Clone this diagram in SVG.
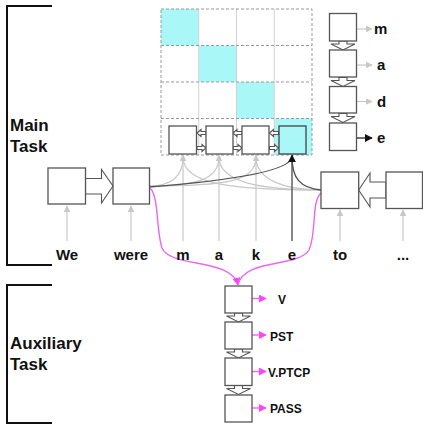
<svg xmlns="http://www.w3.org/2000/svg" width="423" height="425" viewBox="0 0 423 425">
<style>
  text { font-family: "Liberation Sans", Arial, Helvetica, sans-serif; font-weight: bold; fill: #111; }
  .tok { font-size: 15px; text-anchor: middle; }
  .big { font-size: 17px; }
  .out { font-size: 15px; }
  .aux { font-size: 12px; }
  .box { fill: #fff; stroke: #555; stroke-width: 1.3; }
  .cbox { fill: #aaf7f7; stroke: #444; stroke-width: 1.3; }
  .hollow { fill: #fff; stroke: #555; stroke-width: 1.1; stroke-linejoin: miter; }
  .cell { fill: #aaf7f7; stroke: none; }
  .dash { fill: none; stroke: #999; stroke-width: 1; stroke-dasharray: 3 2; }
  .vin { fill: none; stroke: #d2d2d2; stroke-width: 1; }
  .lg { fill: none; stroke: #c8c8c8; stroke-width: 1.2; }
  .dk { fill: none; stroke: #555; stroke-width: 1.4; }
  .pk { fill: none; stroke: #ee66ee; stroke-width: 1.4; }
  .brk { fill: none; stroke: #111; stroke-width: 2; }
</style>
<defs>
  <marker id="mg" viewBox="0 0 10 10" refX="9" refY="5" markerWidth="7" markerHeight="7" markerUnits="userSpaceOnUse" orient="auto">
    <path d="M0,0 L10,5 L0,10 Z" fill="#c8c8c8"/>
  </marker>
  <marker id="mb" viewBox="0 0 10 10" refX="9" refY="5" markerWidth="8" markerHeight="8" markerUnits="userSpaceOnUse" orient="auto">
    <path d="M0,0 L10,5 L0,10 Z" fill="#111"/>
  </marker>
  <marker id="mp" viewBox="0 0 10 10" refX="9" refY="5" markerWidth="8" markerHeight="8" markerUnits="userSpaceOnUse" orient="auto">
    <path d="M0,0 L10,5 L0,10 Z" fill="#ff44ff"/>
  </marker>
  <polygon id="sL" points="0,0 4,-3.5 4,-1.5 9,-1.5 9,1.5 4,1.5 4,3.5"/>
  <polygon id="sR" points="9,0 5,-3.5 5,-1.5 0,-1.5 0,1.5 5,1.5 5,3.5"/>
  <polygon id="dA" points="-4,0 4,0 4,3 12,3 0,9 -12,3 -4,3"/>
</defs>

<!-- brackets and task labels -->
<g id="main-task">
  <path class="brk" d="M52,6 L7,6 L7,265 L52,265"/>
  <text class="big" x="10" y="131">Main</text>
  <text class="big" x="10" y="152">Task</text>
</g>
<g id="aux-task">
  <path class="brk" d="M52,285 L7,285 L7,423 L52,423"/>
  <text class="big" x="10" y="349">Auxiliary</text>
  <text class="big" x="10" y="370">Task</text>
</g>

<!-- attention grid -->
<g id="grid">
  <rect class="cell" x="161" y="9" width="37.75" height="36.5"/>
  <rect class="cell" x="198.75" y="45.5" width="37.75" height="36.5"/>
  <rect class="cell" x="236.5" y="82" width="37.75" height="36.5"/>
  <rect class="cell" x="274.25" y="118.5" width="37.75" height="36.5"/>
  <path class="vin" d="M198.75,9 V155 M236.5,9 V155 M274.25,9 V155"/>
  <path class="dash" d="M161,9 H312 V155 H161 Z M161,45.5 H312 M161,82 H312 M161,118.5 H312"/>
</g>

<!-- connectors -->
<g id="connectors">
  <!-- token inputs -->
  <path class="lg" d="M67,241 V206" marker-end="url(#mg)"/>
  <path class="lg" d="M131,241 V206" marker-end="url(#mg)"/>
  <path class="lg" d="M340,241 V210" marker-end="url(#mg)"/>
  <path class="lg" d="M403,241 V210" marker-end="url(#mg)"/>
  <path class="lg" d="M183,241 V155" marker-end="url(#mg)"/>
  <path class="lg" d="M219,241 V155" marker-end="url(#mg)"/>
  <path class="lg" d="M256,241 V155" marker-end="url(#mg)"/>
  <!-- context curves -->
  <path class="lg" d="M149,186 C170,186 183,178 183,157"/>
  <path class="lg" d="M149,186 C195,186 219,180 219,157"/>
  <path class="lg" d="M149,186 C225,186 256,182 256,157"/>
  <path class="lg" d="M321,190 C230,190 183,184 183,157"/>
  <path class="lg" d="M321,190 C260,190 219,182 219,157"/>
  <path class="lg" d="M321,190 C285,190 256,180 256,157"/>
  <path class="dk" d="M149,187 C225,181 290,172 292,157"/>
  <path class="dk" d="M321,190 C300,188 292,178 292,157"/>
  <path class="dk" d="M292,241 V155" marker-end="url(#mb)"/>
  <!-- to auxiliary decoder -->
  <path class="pk" d="M150,188 C159,196 156,230 162,248 C170,268 232,258 238,285" marker-end="url(#mp)"/>
  <path class="pk" d="M321,193 C311,202 317,232 309,250 C298,268 244,258 238,285"/>
  <!-- right column outputs -->
  <path class="lg" d="M357,29 H372" marker-end="url(#mg)"/>
  <path class="lg" d="M357,65 H372" marker-end="url(#mg)"/>
  <path class="lg" d="M357,101.5 H372" marker-end="url(#mg)"/>
  <path stroke="#111" stroke-width="1.2" d="M357,138 H372" marker-end="url(#mb)"/>
  <!-- aux outputs -->
  <path class="pk" d="M252,298.5 H266" marker-end="url(#mp)"/>
  <path class="pk" d="M252,335 H266" marker-end="url(#mp)"/>
  <path class="pk" d="M252,371.5 H266" marker-end="url(#mp)"/>
  <path class="pk" d="M252,408 H266" marker-end="url(#mp)"/>
  <!-- hollow arrows -->
  <polygon class="hollow" points="85.5,178.5 101.5,178.5 101.5,169.5 113,186 101.5,203 101.5,194 85.5,194"/>
  <polygon class="hollow" points="386,182 370,182 370,173 358.7,190 370,207 370,198 386,198"/>
  <use href="#sL" class="hollow" x="197" y="133"/>
  <use href="#sR" class="hollow" x="197" y="148"/>
  <use href="#sL" class="hollow" x="233" y="133"/>
  <use href="#sR" class="hollow" x="233" y="148"/>
  <use href="#sL" class="hollow" x="269.5" y="133"/>
  <use href="#sR" class="hollow" x="269.5" y="148"/>
  <use href="#dA" class="hollow" x="343" y="41"/>
  <use href="#dA" class="hollow" x="343" y="77.5"/>
  <use href="#dA" class="hollow" x="343" y="113.5"/>
  <use href="#dA" class="hollow" x="238.5" y="313"/>
  <use href="#dA" class="hollow" x="238.5" y="349"/>
  <use href="#dA" class="hollow" x="238.5" y="385.5"/>
</g>

<!-- encoder nodes -->
<g id="enc-we"><rect class="box" x="48" y="168" width="37.5" height="36"/></g>
<g id="enc-were"><rect class="box" x="113" y="168" width="36.5" height="36"/></g>
<g id="enc-to"><rect class="box" x="321" y="172" width="37.7" height="36.5"/></g>
<g id="enc-dots"><rect class="box" x="386" y="172" width="36.5" height="36.5"/></g>

<!-- character nodes in grid -->
<g id="char-m"><rect class="box" x="169" y="126" width="27.5" height="28"/></g>
<g id="char-a"><rect class="box" x="206" y="126" width="27" height="28"/></g>
<g id="char-k"><rect class="box" x="242" y="126" width="27" height="28"/></g>
<g id="char-e"><rect class="cbox" x="279" y="126" width="27" height="28"/></g>

<!-- decoder column -->
<g id="dec-1"><rect class="box" x="329.5" y="13.5" width="27" height="27.5"/></g>
<g id="dec-2"><rect class="box" x="329.5" y="50" width="27" height="27"/></g>
<g id="dec-3"><rect class="box" x="329.5" y="86.5" width="27" height="26.5"/></g>
<g id="dec-4"><rect class="box" x="329.5" y="123" width="27" height="27.5"/></g>

<!-- auxiliary column -->
<g id="aux-1"><rect class="box" x="225" y="286" width="27" height="27"/></g>
<g id="aux-2"><rect class="box" x="225" y="322" width="27" height="27"/></g>
<g id="aux-3"><rect class="box" x="225" y="358" width="27" height="27.5"/></g>
<g id="aux-4"><rect class="box" x="225" y="395" width="27" height="27"/></g>

<!-- texts -->
<g id="tokens">
  <text class="tok" x="67" y="260">We</text>
  <text class="tok" x="131" y="260">were</text>
  <text class="tok" x="183" y="260">m</text>
  <text class="tok" x="219" y="260">a</text>
  <text class="tok" x="256" y="260">k</text>
  <text class="tok" x="292" y="260">e</text>
  <text class="tok" x="340" y="260">to</text>
  <text class="tok" x="403" y="260">...</text>
</g>
<g id="outputs">
  <text class="out" x="374" y="34">m</text>
  <text class="out" x="377" y="70">a</text>
  <text class="out" x="377" y="107">d</text>
  <text class="out" x="377" y="142.5">e</text>
</g>
<g id="aux-labels">
  <text class="aux" x="278" y="304">V</text>
  <text class="aux" x="270" y="340.5">PST</text>
  <text class="aux" x="268" y="377">V.PTCP</text>
  <text class="aux" x="270" y="413">PASS</text>
</g>
</svg>
